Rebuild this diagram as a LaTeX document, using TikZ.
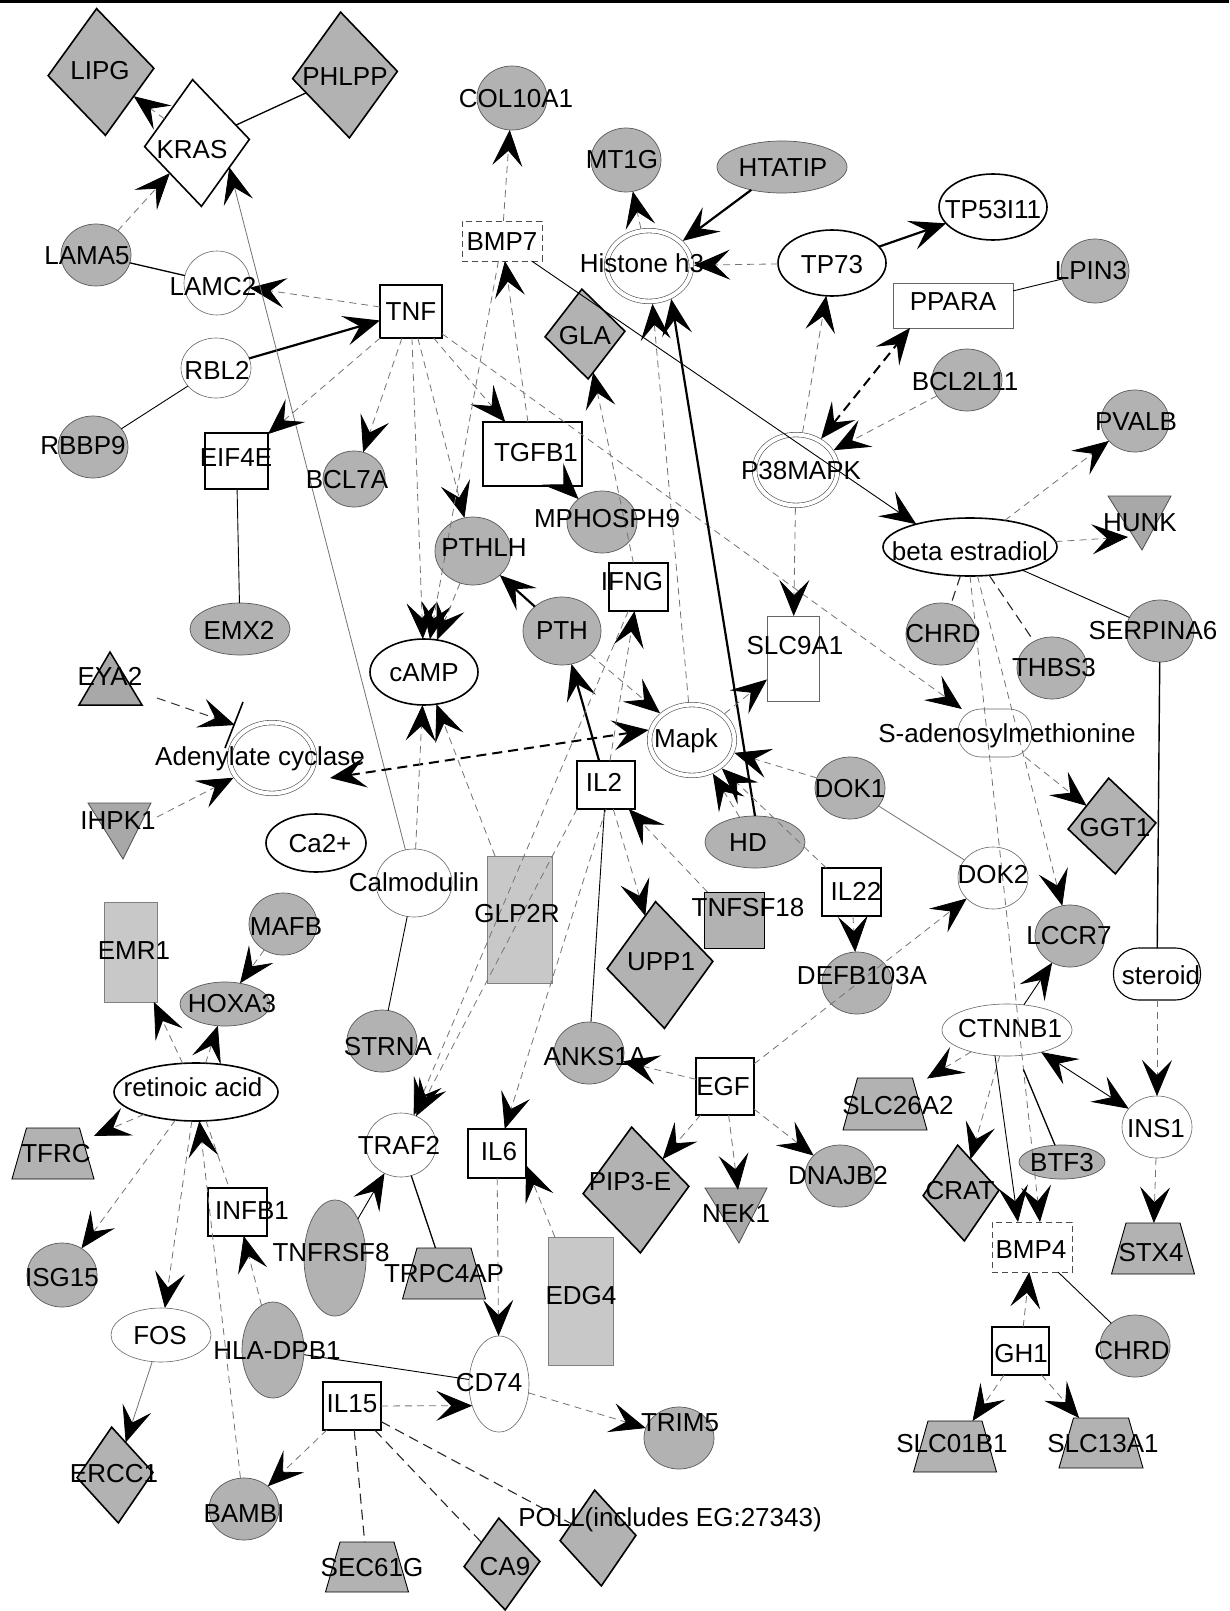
\documentclass[tikz,border=0pt]{standalone}
\usepackage{fontspec}
\setmainfont{Liberation Sans}
\usetikzlibrary{shapes.geometric,arrows.meta}
\definecolor{ngray}{RGB}{178,178,178}
\definecolor{lgray}{RGB}{200,200,200}
\definecolor{tgray}{RGB}{168,168,168}
\newcommand{\mytrap}[5]{%
  \node[base,minimum width=#4pt,minimum height=#5pt] (#1) at (#2,#3) {};
  \draw[trapd] (#1.south west) -- (#1.south east) -- ([xshift=-14.5pt]#1.north east) -- ([xshift=14.5pt]#1.north west) -- cycle;}
\begin{document}
\begin{tikzpicture}[x=1pt,y=-1pt,
  >={Stealth[length=36pt,width=30pt,inset=15pt,color=black]},
  base/.style={inner sep=0pt,outer sep=0pt},
  gell/.style={base,ellipse,fill=ngray,draw=black!65,line width=0.7pt},
  well/.style={base,ellipse,fill=white,draw=black!60,line width=0.6pt},
  tell/.style={base,ellipse,fill=white,draw=black,line width=1.6pt},
  dell/.style={base,ellipse,fill=white,draw=black!70,line width=0.6pt,double=white,double distance=4pt,outer sep=2.6pt},
  gdia/.style={base,diamond,fill=ngray,draw=black,line width=1.6pt,rotate=4},
  trect/.style={base,rectangle,fill=white,draw=black,line width=1.6pt},
  nrect/.style={base,rectangle,fill=white,draw=black!60,line width=0.7pt},
  drect/.style={base,rectangle,fill=white,draw=black!70,line width=0.8pt,dash pattern=on 6pt off 4pt},
  lrect/.style={base,rectangle,fill=lgray,draw=black!50,line width=0.7pt},
  trapd/.style={fill=ngray,draw=black,line width=0.9pt},
  tri/.style={fill=tgray,draw=black!70,line width=0.8pt},
  lbl/.style={base,text height=18.6pt,text depth=0pt,font=\fontsize{26}{30}\selectfont},
  ed/.style={draw=black!55,line width=0.8pt,dash pattern=on 7pt off 5pt},
  eda/.style={ed,->},
  esl/.style={draw=black,line width=0.9pt},
  esg/.style={draw=black!55,line width=0.8pt},
  eth/.style={draw=black,line width=2.2pt,->},
  edk/.style={draw=black!85,line width=1.1pt,dash pattern=on 10pt off 6pt},
  etd/.style={draw=black,line width=2pt,dash pattern=on 10pt off 6pt}
]
\fill[white] (0,0) rectangle (1229,1611);
\useasboundingbox (0,0) rectangle (1229,1611);
\draw[line width=3.5pt] (0,1.75) -- (1229,1.75);

% ---------- gray ellipses
\node[gell,minimum width=70pt,minimum height=62pt] (LAMA5) at (96,255) {};
\node[gell,minimum width=70pt,minimum height=64pt] (COL10A1) at (512,98) {};
\node[gell,minimum width=70pt,minimum height=64pt] (MT1G) at (626,160) {};
\node[gell,minimum width=130pt,minimum height=52pt] (HTATIP) at (782,167) {};
\node[gell,minimum width=68pt,minimum height=64pt] (LPIN3) at (1095,271) {};
\node[gell,minimum width=70pt,minimum height=62pt] (BCL2L11) at (967,380) {};
\node[gell,minimum width=70pt,minimum height=62pt] (RBBP9) at (93,447) {};
\node[gell,minimum width=62pt,minimum height=56pt] (BCL7A) at (354,479) {};
\node[gell,minimum width=100pt,minimum height=52pt] (EMX2) at (240,629) {};
\node[gell,minimum width=76pt,minimum height=68pt] (PTHLH) at (473,551) {};
\node[gell,minimum width=70pt,minimum height=62pt] (MPHOSPH9) at (602,522) {};
\node[gell,minimum width=78pt,minimum height=68pt] (PTH) at (562,631) {};
\node[gell,minimum width=68pt,minimum height=62pt] (PVALB) at (1135,421) {};
\node[gell,minimum width=70pt,minimum height=62pt] (CHRDa) at (941,634) {};
\node[gell,minimum width=70pt,minimum height=62pt] (THBS3) at (1052,668) {};
\node[gell,minimum width=68pt,minimum height=62pt] (SERPINA6) at (1160,631) {};
\node[gell,minimum width=70pt,minimum height=62pt] (DOK1) at (850,788) {};
\node[gell,minimum width=100pt,minimum height=52pt] (HD) at (755,842) {};
\node[gell,minimum width=70pt,minimum height=62pt] (DEFB) at (857,983) {};
\node[gell,minimum width=70pt,minimum height=62pt] (LCCR7) at (1070,936) {};
\node[gell,minimum width=68pt,minimum height=62pt] (MAFB) at (283,924) {};
\node[gell,minimum width=90pt,minimum height=44pt] (HOXA3) at (225,1004) {};
\node[gell,minimum width=70pt,minimum height=62pt] (STRNA) at (382,1041) {};
\node[gell,minimum width=70pt,minimum height=62pt] (ANKS1A) at (589,1053) {};
\node[gell,minimum width=70pt,minimum height=62pt] (DNAJB2) at (840,1176) {};
\node[gell,minimum width=86pt,minimum height=34pt] (BTF3) at (1062,1162) {};
\node[gell,minimum width=70pt,minimum height=64pt] (ISG15) at (62,1275) {};
\node[gell,minimum width=62pt,minimum height=96pt] (HLA) at (273,1350) {};
\node[gell,minimum width=62pt,minimum height=116pt] (TNFRSF8) at (335,1258) {};
\node[gell,minimum width=70pt,minimum height=62pt] (BAMBI) at (244,1509) {};
\node[gell,minimum width=70pt,minimum height=62pt] (TRIM5) at (679,1438) {};
\node[gell,minimum width=70pt,minimum height=62pt] (CHRDb) at (1135,1346) {};

% ---------- white ellipses
\node[well,minimum width=66pt,minimum height=64pt] (LAMC2) at (217,283) {};
\node[well,minimum width=70pt,minimum height=60pt] (RBL2) at (216,368) {};
\node[well,minimum width=76pt,minimum height=68pt] (Calmodulin) at (414,883) {};
\node[well,minimum width=70pt,minimum height=64pt] (TRAF2) at (401,1145) {};
\node[well,minimum width=100pt,minimum height=54pt] (FOS) at (161,1335) {};
\node[well,minimum width=60pt,minimum height=96pt] (CD74) at (499,1384) {};
\node[well,minimum width=70pt,minimum height=62pt] (DOK2) at (993,878) {};
\node[well,minimum width=130pt,minimum height=52pt] (CTNNB1) at (1007,1030) {};
\node[well,minimum width=70pt,minimum height=62pt] (INS1) at (1157,1127) {};
\node[tell,minimum width=108pt,minimum height=66pt] (TP73) at (832,263) {};
\node[tell,minimum width=108pt,minimum height=66pt] (TP53I11) at (993,207) {};
\node[tell,minimum width=108pt,minimum height=66pt] (cAMP) at (424,672) {};
\node[tell,minimum width=100pt,minimum height=58pt] (Ca) at (316,843) {};
\node[tell,minimum width=164pt,minimum height=58pt] (RA) at (196,1092) {};
\node[tell,minimum width=174pt,minimum height=58pt] (beta) at (970,547) {};
\node[dell,minimum width=84.8pt,minimum height=70.8pt] (Histone) at (649,266) {};
\node[dell,minimum width=82.8pt,minimum height=70.8pt] (P38) at (796,470) {};
\node[dell,minimum width=84.8pt,minimum height=70.8pt] (Mapk) at (692,740) {};
\node[dell,minimum width=84.8pt,minimum height=70.8pt] (AC) at (272,758) {};
\node[base,rectangle,rounded corners=25pt,fill=white,draw=black,line width=1.1pt,minimum width=87pt,minimum height=52pt] (steroid) at (1157,974) {};
\node[base,rectangle,rounded corners=23pt,fill=white,draw=black!60,line width=0.6pt,minimum width=74pt,minimum height=48pt] (Sad) at (995,733) {};

% ---------- diamonds
\node[gdia,minimum width=106pt,minimum height=127pt] (LIPG) at (101,72) {};
\node[gdia,minimum width=105pt,minimum height=126pt] (PHLPP) at (345,75) {};
\node[gdia,fill=white,minimum width=105pt,minimum height=127pt] (KRAS) at (197,143) {};
\node[gdia,minimum width=80pt,minimum height=90pt] (GLA) at (585,334) {};
\node[gdia,minimum width=88pt,minimum height=96pt] (GGT1) at (1112,826) {};
\node[gdia,minimum width=106pt,minimum height=127pt] (UPP1) at (660,965) {};
\node[gdia,minimum width=106pt,minimum height=126pt] (PIP) at (636,1190) {};
\node[gdia,minimum width=76pt,minimum height=96pt] (CRAT) at (961,1193) {};
\node[gdia,minimum width=76pt,minimum height=96pt] (ERCC1) at (115,1475) {};
\node[gdia,minimum width=76pt,minimum height=92pt] (CA9) at (502,1564) {};
\node[gdia,minimum width=76pt,minimum height=96pt] (POLL) at (598,1538) {};

% ---------- rectangles
\node[trect,minimum width=62pt,minimum height=53pt] (TNF) at (411,311.5) {};
\node[drect,minimum width=80pt,minimum height=40pt] (BMP7) at (502,241) {};
\node[nrect,minimum width=120pt,minimum height=45pt] (PPARA) at (953,305.5) {};
\node[trect,minimum width=63pt,minimum height=56pt] (EIF4E) at (236.5,461) {};
\node[trect,minimum width=99pt,minimum height=64pt] (TGFB1) at (532.5,454) {};
\node[trect,minimum width=59pt,minimum height=48pt] (IFNG) at (638.5,587) {};
\node[nrect,minimum width=52pt,minimum height=85pt] (SLC9A1) at (793,658.5) {};
\node[trect,minimum width=58pt,minimum height=48pt] (IL2) at (606,785) {};
\node[lrect,minimum width=53pt,minimum height=100pt] (EMR1) at (130.5,952) {};
\node[lrect,minimum width=65pt,minimum height=127pt] (GLP2R) at (519.5,919.5) {};
\node[base,rectangle,fill=ngray,draw=black,line width=1pt,minimum width=60pt,minimum height=56pt] (TNFSF18) at (734,920) {};
\node[trect,minimum width=59pt,minimum height=48pt] (IL22) at (851.5,892) {};
\node[trect,line width=1.2pt,minimum width=58pt,minimum height=57pt] (EGF) at (725,1086.5) {};
\node[trect,minimum width=58pt,minimum height=49pt] (IL6) at (497,1153.5) {};
\node[trect,minimum width=59pt,minimum height=48pt] (INFB1) at (237.5,1212) {};
\node[lrect,minimum width=65pt,minimum height=128pt] (EDG4) at (580.5,1301) {};
\node[trect,minimum width=58pt,minimum height=48pt] (IL15) at (352,1406) {};
\node[drect,minimum width=80pt,minimum height=50pt] (BMP4) at (1032,1247) {};
\node[trect,minimum width=57pt,minimum height=48pt] (GH1) at (1020.5,1351) {};

% ---------- trapezia
\mytrap{TFRC}{53}{1153.5}{82}{51}
\mytrap{SLC26A2}{885}{1104}{84}{52}
\mytrap{STX4}{1153}{1248.5}{83}{51}
\mytrap{TRPC4AP}{444}{1273.5}{83}{51}
\mytrap{SLC01B1}{955}{1446.5}{83}{51}
\mytrap{SLC13A1}{1101}{1443}{84}{50}
\mytrap{SEC61G}{367}{1567}{83}{50}

% ---------- triangles
\draw[tri,draw=black,line width=1.5pt] (110,652) -- (79,705) -- (142,705) -- cycle;
\draw[tri] (1108,496) -- (1171,496) -- (1142,550) -- cycle;
\draw[tri] (88,803) -- (151,803) -- (123,859) -- cycle;
\draw[tri] (705,1188) -- (767,1188) -- (739,1243) -- cycle;
\coordinate (EYA2s) at (157,698);
\coordinate (EYA2t) at (235,725);
\coordinate (bar1) at (243,702);
\coordinate (bar2) at (225,748);
\coordinate (IHPK1s) at (157,817);
\coordinate (HUNKt) at (1128,537);
\coordinate (NEK1t) at (738,1190);
\coordinate (ACr) at (330,778);

% ---------- edges
\draw[eda] (KRAS) -- (LIPG);
\draw[esl,line width=1.3pt] (KRAS) -- (PHLPP);
\draw[eda] (LAMA5) -- (KRAS);
\draw[esl,line width=1.3pt] (LAMA5) -- (LAMC2);
\draw[eda] (TNF) -- (LAMC2);
\draw[eth] (RBL2) -- (TNF);
\draw[esg,->] (Calmodulin) -- (KRAS.-41);
\draw[esl] (RBL2) -- (RBBP9);
\draw[eda] (TNF) -- (EIF4E);
\draw[esl] (EIF4E) -- (EMX2);
\draw[eda] (TNF) -- (BCL7A);
\draw[eda] (TNF) -- (cAMP);
\draw[eda] (TNF) -- (PTHLH);
\draw[eda] (TNF) -- (TGFB1);
\draw[eda] (TGFB1) -- (BMP7);
\draw[eda] (BMP7) -- (COL10A1);
\draw[esl,->] (BMP7.-34) -- (beta.157);
\draw[eda] (TGFB1) -- (MPHOSPH9);
\draw[eda] (TNF) -- (Sad);
\draw[eda] (IFNG) -- (GLA);
\draw[eda] (Mapk) -- (Histone);
\draw[eth] (HD.north) -- (Histone.-56);
\draw[eth] (HTATIP) -- (Histone);
\draw[eda] (Histone) -- (MT1G);
\draw[eda] (TP73) -- (Histone);
\draw[eth] (TP73) -- (TP53I11);
\draw[eda] (P38) -- (TP73);
\draw[etd,<->] (P38) -- ([xshift=17pt]PPARA.south west);
\draw[esl] (PPARA) -- (LPIN3);
\draw[eda] (BCL2L11) -- (P38);
\draw[eda] (P38) -- (SLC9A1);
\draw[eda] (Mapk) -- (SLC9A1);
\draw[eth] (PTH) -- (PTHLH);
\draw[eth] (IL2) -- (PTH);
\draw[eda] (PTH) -- (Mapk);
\draw[etd,<->] (Mapk.167) -- (ACr);
\draw[eda] (TNFSF18) -- (IL2);
\draw[eda] (IL2) -- (UPP1);
\draw[esl] (IL2) -- (ANKS1A);
\draw[eda] (IL2.south) -- (IL6);
\draw[eda] (IL2) -- (IFNG);
\draw[eda] (IFNG) -- (TRAF2);
\draw[eda] (IL2.south west) -- (TRAF2);
\draw[eda] (HD) -- (Mapk);
\draw[eda] (IL22) -- (Mapk);
\draw[eda] (DOK1) -- (Mapk);
\draw[esg] (DOK1) -- (DOK2);
\draw[eda] (IL22) -- (DEFB);
\draw[eda] (EGF) -- (DOK2);
\draw[eda] (EGF) -- (ANKS1A);
\draw[eda] (EGF) -- (PIP);
\draw[eda] (EGF) -- (NEK1t);
\draw[eda] (EGF) -- (DNAJB2);
\draw[eda] (EDG4) -- (IL6.-22);
\draw[eda] (IL6) -- (CD74);
\draw[esl,line width=1.3pt] (TRAF2) -- (TRPC4AP);
\draw[esl,->] (TNFRSF8) -- (TRAF2);
\draw[esl] (HLA) -- (CD74);
\draw[eda] (HLA) -- (INFB1);
\draw[eda] (IL15) -- (CD74.219);
\draw[eda] (CD74) -- (TRIM5);
\draw[eda] (IL15) -- (BAMBI);
\draw[edk] (IL15) -- (SEC61G);
\draw[edk] (IL15) -- (CA9);
\draw[edk] (IL15) -- (POLL);
\draw[esg,->] (FOS) -- (ERCC1);
\draw[eda] (RA) -- (FOS);
\draw[eda] (RA) -- (ISG15);
\draw[eda] (RA) -- (TFRC);
\draw[eda] (RA) -- (EMR1);
\draw[eda] (RA) -- (HOXA3);
\draw[eda] (MAFB) -- (HOXA3);
\draw[eda] (BAMBI) -- (RA);
\draw[ed] (RA) -- (INFB1);
\draw[esl] (Calmodulin) -- (STRNA);
\draw[eda] (Calmodulin) -- (cAMP);
\draw[eda] (GLP2R) -- (cAMP);
\draw[eda] (BMP7) -- (cAMP);
\draw[eda] (PTHLH) -- (cAMP);
\draw[eda] (IHPK1s) -- (AC);
\draw[ed,dash pattern=on 9pt off 6pt,draw=black!80,line width=1pt,->] (EYA2s) -- (EYA2t);
\draw[draw=black,line width=1.6pt] (bar1) -- (bar2);
\draw[eda] (beta) -- (PVALB);
\draw[eda] (beta) -- (HUNKt);
\draw[esl] (beta) -- (SERPINA6);
\draw[edk] (beta) -- (CHRDa);
\draw[edk] (beta) -- (THBS3);
\draw[eda] (beta) -- (LCCR7);
\draw[eda] (beta.south) -- ([xshift=8pt]BMP4.north);
\draw[eda] (Sad) -- (GGT1);
\draw[esl,line width=1.4pt] (SERPINA6) -- (steroid);
\draw[eda] (steroid) -- (INS1);
\draw[eda] (INS1) -- (STX4);
\draw[esl,->] (CTNNB1) -- (LCCR7);
\draw[esl,<->] (CTNNB1) -- (INS1);
\draw[eda] (CTNNB1) -- (SLC26A2);
\draw[eda] (CTNNB1) -- (CRAT);
\draw[esl,->] ([xshift=-12pt]CTNNB1.south) -- ([xshift=-14pt]BMP4.north);
\draw[esl,line width=1.3pt,shorten <=15pt] (CTNNB1) -- (BTF3);
\draw[eda] (GH1) -- (BMP4);
\draw[esl] (BMP4) -- (CHRDb);
\draw[eda] (GH1) -- (SLC01B1);
\draw[eda] (GH1) -- (SLC13A1);

% ---------- labels
\node[lbl] (lLIPG) at (100,70) {LIPG};
\node[lbl] (lPHLPP) at (345,76) {PHLPP};
\node[lbl] (lKRAS) at (192,149) {KRAS};
\node[lbl] (lLAMA5) at (87,255) {LAMA5};
\node[lbl] (lLAMC2) at (213,286) {LAMC2};
\node[lbl] (lRBL2) at (217,370) {RBL2};
\node[lbl] (lTNF) at (411,311) {TNF};
\node[lbl] (lCOL) at (516,98) {COL10A1};
\node[lbl] (lMT1G) at (622,159) {MT1G};
\node[lbl] (lHTATIP) at (783,167) {HTATIP};
\node[lbl] (lBMP7) at (502,241) {BMP7};
\node[lbl] (lHist) at (642,263) {Histone h3};
\node[lbl] (lTP73) at (832,264) {TP73};
\node[lbl] (lTP53) at (993,209) {TP53I11};
\node[lbl] (lLPIN3) at (1091,270) {LPIN3};
\node[lbl] (lPPARA) at (953,301) {PPARA};
\node[lbl] (lGLA) at (585,335) {GLA};
\node[lbl] (lBCL2L11) at (965,381) {BCL2L11};
\node[lbl] (lRBBP9) at (83,445) {RBBP9};
\node[lbl] (lEIF4E) at (236,457) {EIF4E};
\node[lbl] (lBCL7A) at (347,479) {BCL7A};
\node[lbl] (lEMX2) at (239,630) {EMX2};
\node[lbl] (lEYA2) at (110,676) {EYA2};
\node[lbl] (lAC) at (260,756) {Adenylate cyclase};
\node[lbl] (lcAMP) at (424,672) {cAMP};
\node[lbl] (lTGFB1) at (536,452) {TGFB1};
\node[lbl] (lMPH) at (607,518) {MPHOSPH9};
\node[lbl] (lPTHLH) at (484,547) {PTHLH};
\node[lbl] (lPTH) at (562,630) {PTH};
\node[lbl] (lIFNG) at (632,581) {IFNG};
\node[lbl] (lP38) at (801,470) {P38MAPK};
\node[lbl] (lSLC9A1) at (795,645) {SLC9A1};
\node[lbl] (lMapk) at (686,738) {Mapk};
\node[lbl] (lIL2) at (604,782) {IL2};
\node[lbl] (lPVALB) at (1136,421) {PVALB};
\node[lbl] (lHUNK) at (1140,522) {HUNK};
\node[lbl] (lbeta) at (970,551) {beta estradiol};
\node[lbl] (lCHRDa) at (943,633) {CHRD};
\node[lbl] (lTHBS3) at (1054,667) {THBS3};
\node[lbl] (lSERP) at (1153,630) {SERPINA6};
\node[lbl] (lSad) at (1007,733) {S-adenosylmethionine};
\node[lbl] (lDOK1) at (850,788) {DOK1};
\node[lbl] (lGGT1) at (1115,827) {GGT1};
\node[lbl] (lIHPK1) at (118,820) {IHPK1};
\node[lbl] (lCa) at (320,843) {Ca2+};
\node[lbl] (lCalm) at (414,882) {Calmodulin};
\node[lbl] (lEMR1) at (134,950) {EMR1};
\node[lbl] (lMAFB) at (286,926) {MAFB};
\node[lbl] (lHOXA3) at (232,1003) {HOXA3};
\node[lbl] (lSTRNA) at (388,1046) {STRNA};
\node[lbl] (lRA) at (193,1087) {retinoic acid};
\node[lbl] (lTFRC) at (56,1153) {TFRC};
\node[lbl] (lTRAF2) at (399,1145) {TRAF2};
\node[lbl] (lINFB1) at (252,1210) {INFB1};
\node[lbl] (lGLP2R) at (517,913) {GLP2R};
\node[lbl] (lHD) at (748,842) {HD};
\node[lbl] (lUPP1) at (661,961) {UPP1};
\node[lbl] (lTNFSF18) at (748,907) {TNFSF18};
\node[lbl] (lANKS1A) at (595,1056) {ANKS1A};
\node[lbl] (lEGF) at (723,1086) {EGF};
\node[lbl] (lIL6) at (499,1151) {IL6};
\node[lbl] (lPIP) at (630,1181) {PIP3-E};
\node[lbl] (lNEK1) at (736,1213) {NEK1};
\node[lbl] (lDNAJB2) at (838,1175) {DNAJB2};
\node[lbl] (lIL22) at (856,891) {IL22};
\node[lbl] (lDEFB) at (862,975) {DEFB103A};
\node[lbl] (lDOK2) at (993,874) {DOK2};
\node[lbl] (lLCCR7) at (1069,935) {LCCR7};
\node[lbl] (lsteroid) at (1161,975) {steroid};
\node[lbl] (lCTNNB1) at (1010,1028) {CTNNB1};
\node[lbl] (lSLC26A2) at (898,1105) {SLC26A2};
\node[lbl] (lINS1) at (1156,1128) {INS1};
\node[lbl] (lBTF3) at (1062,1162) {BTF3};
\node[lbl] (lCRAT) at (960,1190) {CRAT};
\node[lbl] (lISG15) at (62,1277) {ISG15};
\node[lbl] (lFOS) at (160,1335) {FOS};
\node[lbl] (lHLA) at (277,1350) {HLA-DPB1};
\node[lbl] (lTNFRSF8) at (331,1252) {TNFRSF8};
\node[lbl] (lTRPC4AP) at (444,1273) {TRPC4AP};
\node[lbl] (lIL15) at (352,1403) {IL15};
\node[lbl] (lERCC1) at (114,1473) {ERCC1};
\node[lbl] (lBAMBI) at (244,1513) {BAMBI};
\node[lbl] (lSEC61G) at (372,1567) {SEC61G};
\node[lbl] (lEDG4) at (581,1295) {EDG4};
\node[lbl] (lCD74) at (489,1382) {CD74};
\node[lbl] (lTRIM5) at (680,1422) {TRIM5};
\node[lbl] (lCA9) at (505,1566) {CA9};
\node[lbl] (lPOLL) at (670,1517) {POLL(includes EG:27343)};
\node[lbl] (lBMP4) at (1031,1249) {BMP4};
\node[lbl] (lSTX4) at (1151,1252) {STX4};
\node[lbl] (lGH1) at (1021,1353) {GH1};
\node[lbl] (lCHRDb) at (1132,1350) {CHRD};
\node[lbl] (lSLC01B1) at (952,1443) {SLC01B1};
\node[lbl] (lSLC13A1) at (1103,1443) {SLC13A1};
\end{tikzpicture}
\end{document}
